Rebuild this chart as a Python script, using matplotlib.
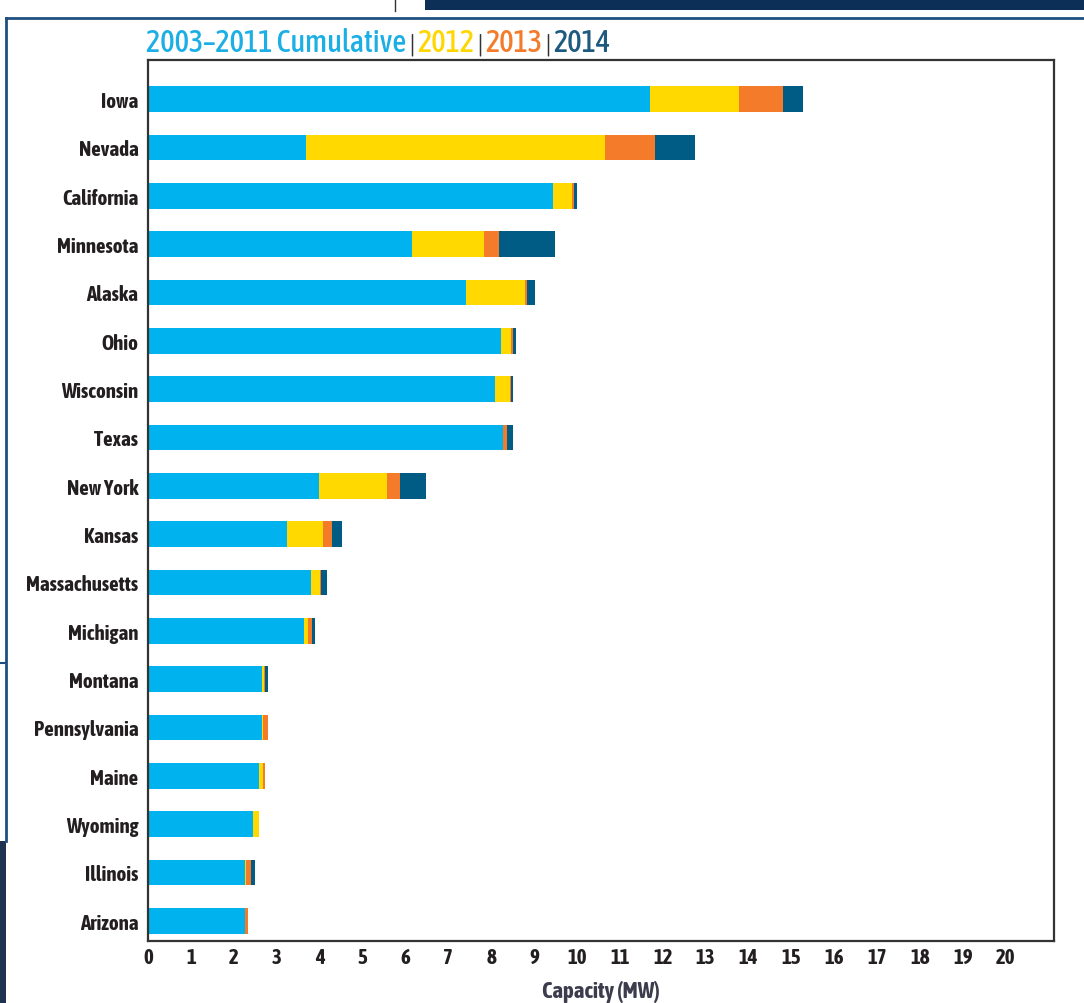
import matplotlib
matplotlib.use("Agg")
import matplotlib.pyplot as plt
from matplotlib.patches import Rectangle
from matplotlib.lines import Line2D
import numpy as np

# Installed capacity by state (MW), stacked by period
states = ["Iowa", "Nevada", "California", "Minnesota", "Alaska", "Ohio",
          "Wisconsin", "Texas", "New York", "Kansas", "Massachusetts",
          "Michigan", "Montana", "Pennsylvania", "Maine", "Wyoming",
          "Illinois", "Arizona"]
cum_2003_2011 = [11.71, 3.69, 9.44, 6.15, 7.41, 8.23, 8.09, 8.28, 3.98, 3.25,
                 3.79, 3.64, 2.65, 2.65, 2.59, 2.45, 2.26, 2.25]
add_2012 = [2.06, 6.96, 0.45, 1.69, 1.37, 0.24, 0.34, 0.00, 1.60, 0.84,
            0.22, 0.08, 0.05, 0.04, 0.10, 0.14, 0.03, 0.00]
add_2013 = [1.03, 1.16, 0.03, 0.34, 0.05, 0.03, 0.03, 0.10, 0.29, 0.19,
            0.02, 0.10, 0.03, 0.10, 0.04, 0.00, 0.10, 0.09]
add_2014 = [0.47, 0.95, 0.09, 1.31, 0.19, 0.07, 0.06, 0.13, 0.62, 0.24,
            0.15, 0.07, 0.06, 0.00, 0.00, 0.00, 0.10, 0.00]
series_labels = ["2003\u20132011 Cumulative", "2012", "2013", "2014"]
x_ticks = list(range(0, 21))

colors = ["#00B2EE", "#FFD900", "#F47B2A", "#005B85"]
title_colors = ["#1CAFE6", "#FFD600", "#F47B2A", "#1E5A80"]
label_color = "#231F20"

condensed = ["Asap Condensed", "DejaVu Sans"]

W, H = 1084, 1004
fig = plt.figure(figsize=(W / 100, H / 100), dpi=100)
fig.patch.set_facecolor("white")

# surrounding page elements
def px_rect(x0, y0, x1, y1, **kw):
    fig.add_artist(Rectangle((x0 / W, 1 - y1 / H), (x1 - x0) / W, (y1 - y0) / H,
                             transform=fig.transFigure, **kw))

px_rect(425, 0, W, 11, facecolor="#0B2F57", edgecolor="none")
px_rect(0, 842, 6, H, facecolor="#1F3350", edgecolor="none")
fig.add_artist(Line2D([395 / W, 395 / W], [1, 1 - 12 / H], transform=fig.transFigure,
                      color="#333333", lw=1))
fig.add_artist(Line2D([6 / W, 1], [1 - 19 / H, 1 - 19 / H], transform=fig.transFigure,
                      color="#1E4F80", lw=2))
fig.add_artist(Line2D([6 / W, 6 / W], [1 - 19 / H, 1 - 842 / H], transform=fig.transFigure,
                      color="#1E4F80", lw=2))
fig.add_artist(Line2D([0, 5 / W], [1 - 664 / H, 1 - 664 / H], transform=fig.transFigure,
                      color="#1E4F80", lw=1.5))

left, right, top, bottom = 148, 1054, 61, 942
ax = fig.add_axes([left / W, 1 - bottom / H, (right - left) / W, (bottom - top) / H])

y = np.arange(len(states))
base = np.zeros(len(states))
for vals, c in zip([cum_2003_2011, add_2012, add_2013, add_2014], colors):
    ax.barh(y, vals, left=base, height=0.53, color=c, edgecolor="none")
    base = base + np.array(vals)

ax.set_xlim(0, 21.12)
ax.set_ylim(17.42, -0.81)
ax.set_yticks(y)
ax.set_yticklabels(states, family=condensed, fontweight="bold", fontsize=15,
                   color=label_color)
ax.set_xticks(x_ticks)
ax.set_xticklabels([str(t) for t in x_ticks], family=condensed, fontweight="bold",
                   fontsize=15, color=label_color)
ax.tick_params(axis="both", length=0)
ax.tick_params(axis="y", pad=7)
ax.tick_params(axis="x", pad=4)
for s in ax.spines.values():
    s.set_color("#333333")
    s.set_linewidth(1.6)

ax.set_xlabel("Capacity (MW)", family=condensed, fontweight="bold", fontsize=16.5,
              color="#3C3C4C", labelpad=10)

# colour-keyed heading above the plot
fig.canvas.draw()
renderer = fig.canvas.get_renderer()
x_pos = 146
y_base = 1 - 52 / H
pieces = []
for i, (lab, c) in enumerate(zip(series_labels, title_colors)):
    if i > 0:
        pieces.append(("|", "#333333"))
    pieces.append((lab, c))
for txt, c in pieces:
    is_bar = txt == "|"
    t = fig.text(x_pos / W, y_base, txt, color=c, fontsize=18 if is_bar else 22,
                 family=condensed, fontweight="normal" if is_bar else "medium",
                 ha="left", va="baseline")
    bb = t.get_window_extent(renderer=renderer)
    x_pos = bb.x1 + 3

fig.savefig("out.png", dpi=100, facecolor="white")
